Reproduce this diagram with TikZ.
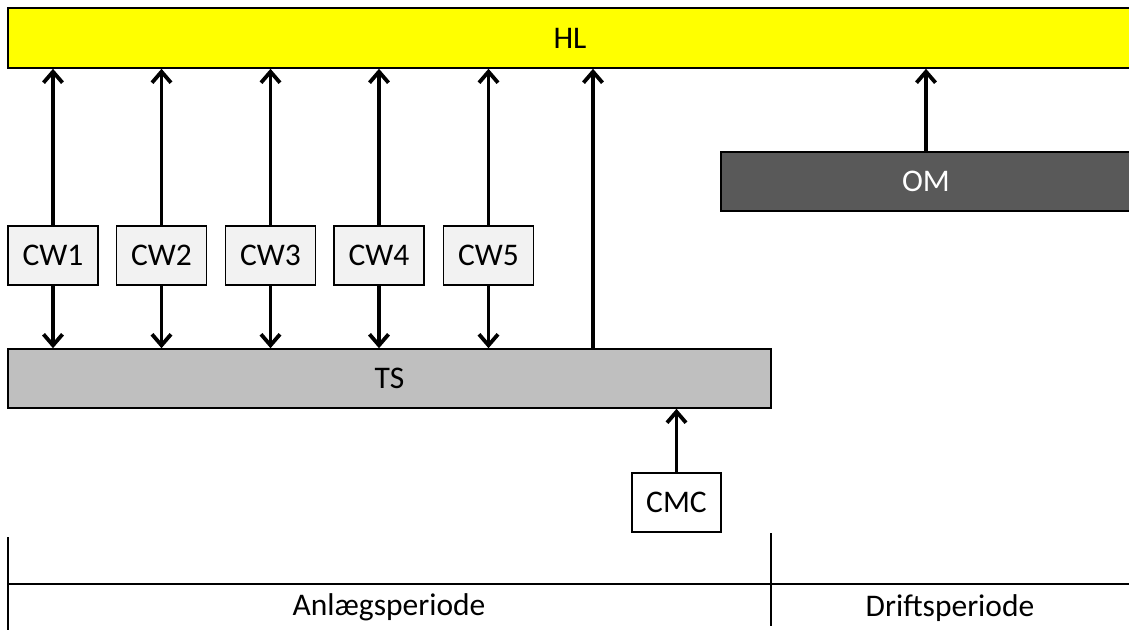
\documentclass[tikz,border=0pt]{standalone}
\usepackage{fontspec}
\setmainfont{Carlito}
\usetikzlibrary{arrows.meta}
\begin{document}
\begin{tikzpicture}[x=1pt,y=-1pt,
  every node/.style={font=\fontsize{31.5}{38}\selectfont},
  blk/.style={draw=black, line width=1.6pt, rectangle, inner sep=0pt},
  cw/.style={blk, fill=cwgray, minimum width=90pt, minimum height=59pt},
  flow/.style={line width=3.8pt, -{Straight Barb[length=11pt,width=19pt,line width=3.8pt]}},
  rule/.style={line width=1.6pt}]
\definecolor{hlyellow}{HTML}{FFFF00}
\definecolor{cwgray}{HTML}{F2F2F2}
\definecolor{tsgray}{HTML}{BFBFBF}
\definecolor{omgray}{HTML}{595959}
\useasboundingbox (0,0) rectangle (1129,630);

% main bars
\node[blk, fill=hlyellow, minimum width=1124pt, minimum height=60pt] (HL) at (570,38) {HL};
\node[blk, fill=tsgray, minimum width=763pt, minimum height=59pt] (TS) at (389.5,378.5) {TS};
\node[blk, fill=omgray, text=white, minimum width=410pt, minimum height=59pt] (OM) at (926,181.5) {OM};
\node[blk, fill=white, minimum width=89pt, minimum height=59pt] (CMC) at (676.5,502.5) {CMC};

% work packages
\node[cw] (CW1) at (53,255.5) {CW1};
\node[cw] (CW2) at (161.5,255.5) {CW2};
\node[cw] (CW3) at (270.5,255.5) {CW3};
\node[cw] (CW4) at (379,255.5) {CW4};
\node[cw] (CW5) at (488.5,255.5) {CW5};

% connectors
\foreach \c in {CW1,CW2,CW3,CW4,CW5}{
  \draw[flow] (\c.north) -- (\c.north |- HL.south);
  \draw[flow] (\c.south) -- (\c.south |- TS.north);
}
\coordinate (tsup) at (593,349);
\draw[flow] (tsup) -- (tsup |- HL.south);
\draw[flow] (OM.north) -- (OM.north |- HL.south);
\draw[flow] (CMC.north) -- (CMC.north |- TS.south);

% timeline
\coordinate (tl0) at (8,584);
\coordinate (tl1) at (1129,584);
\coordinate (tb0) at (8,537);
\coordinate (tb1) at (8,630);
\coordinate (td0) at (771,533);
\coordinate (td1) at (771,626);
\draw[rule] (tl0) -- (tl1);
\draw[rule] (tb0) -- (tb1);
\draw[rule] (td0) -- (td1);
\node (anl) at (389,607) {Anlægsperiode};
\node (drift) at (950,608) {Driftsperiode};
\end{tikzpicture}
\end{document}
